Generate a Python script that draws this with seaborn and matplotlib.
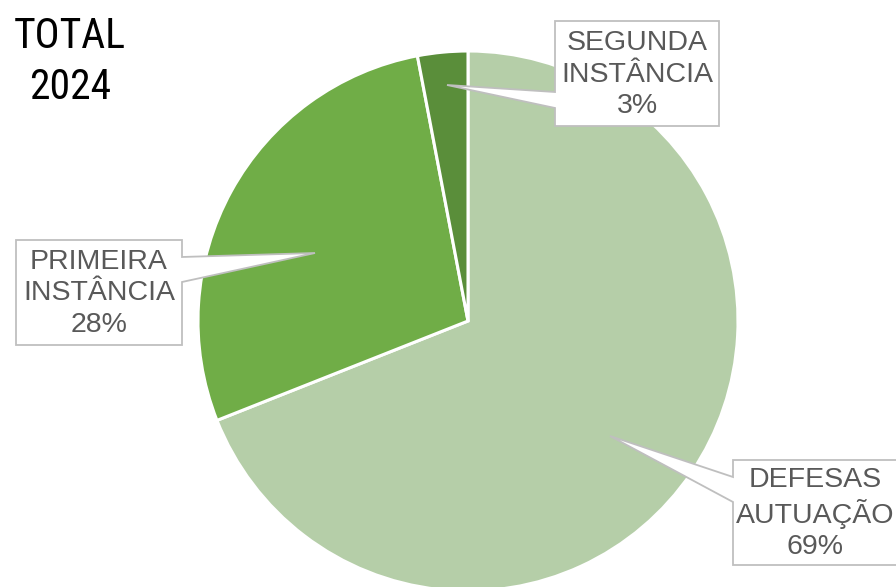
import matplotlib
matplotlib.use("Agg")
import matplotlib.pyplot as plt
import seaborn as sns
from matplotlib.patches import Polygon

categories = ["DEFESAS\nAUTUAÇÃO", "PRIMEIRA\nINSTÂNCIA", "SEGUNDA\nINSTÂNCIA"]
values = [69, 28, 3]
colors = ["#b5cea8", "#70ad47", "#5a8e3a"]
title = "TOTAL\n2024"

W, H = 896, 587

sns.set_theme(style="white")
plt.rcParams["font.family"] = ["Liberation Sans", "DejaVu Sans"]

fig = plt.figure(figsize=(W / 100, H / 100), dpi=100)
ax = fig.add_axes([0, 0, 1, 1])

ax.pie(values, colors=colors, startangle=90, counterclock=False,
       center=(468, H - 321), radius=270,
       wedgeprops=dict(edgecolor="white", linewidth=2.2))
ax.set_xlim(0, W)
ax.set_ylim(0, H)
ax.set_aspect("equal")
ax.axis("off")


def fy(y):
    return H - y


def callout(box, side, b0, b1, tip, text, tx):
    # box = (x0, y0, x1, y1) in screen pixels (y down); pointer base on one side
    x0, y0, x1, y1 = box
    if side == "left":
        pts = [(x0, y0), (x1, y0), (x1, y1), (x0, y1), (x0, b1), tip, (x0, b0)]
    else:
        pts = [(x0, y0), (x1, y0), (x1, b0), tip, (x1, b1), (x1, y1), (x0, y1)]
    pts = [(x, fy(y)) for x, y in pts]
    ax.add_patch(Polygon(pts, closed=True, facecolor="white",
                         edgecolor="#bfbfbf", linewidth=1.3, zorder=5,
                         clip_on=False))
    ax.text(tx, fy((y0 + y1) / 2 + 1), text, ha="center", va="center",
            fontsize=20.5, color="#595959", linespacing=1.26, zorder=6)


pct = [f"{v}%" for v in values]
callout((555, 21, 719, 126), "left", 92, 108, (447, 85),
        categories[2] + "\n" + pct[2], 637)
callout((16, 240, 182, 345), "right", 257, 282, (315, 253),
        categories[1] + "\n" + pct[1], 99)
callout((733, 460, 900, 565), "left", 477, 502, (610, 436),
        categories[0] + "\n" + pct[0], 815)

ax.text(70, fy(62), title, ha="center", va="center", fontsize=30,
        family=["Roboto Condensed", "Liberation Sans"],
        color="black", linespacing=1.32)

fig.savefig("out.png", dpi=100)
